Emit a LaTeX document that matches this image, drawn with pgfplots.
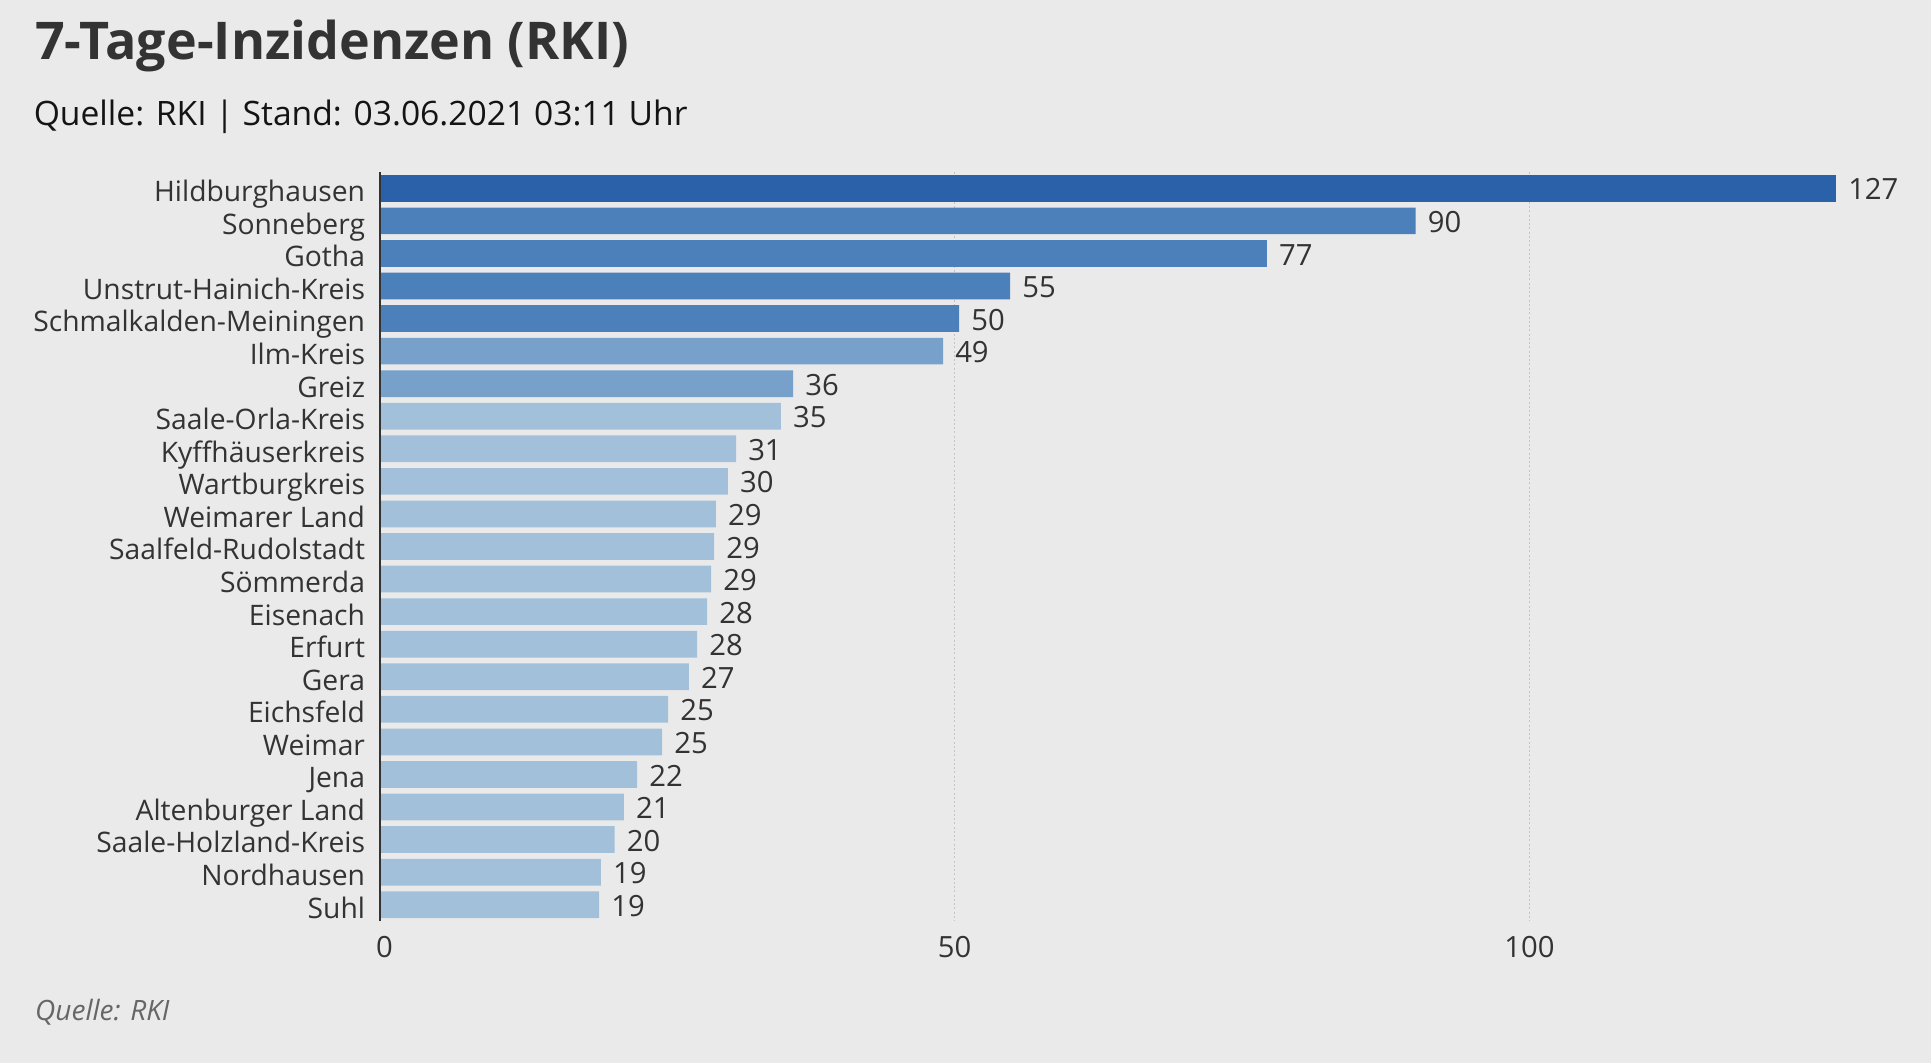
\documentclass[border=0pt]{standalone}
\usepackage{fontspec}
\setmainfont{Open Sans}
\usepackage{pgfplots}
\pgfplotsset{compat=1.18}
\definecolor{bg}{HTML}{EAEAEA}
\definecolor{txt}{HTML}{333333}
\definecolor{gridc}{HTML}{C4C4C4}
\definecolor{cA}{HTML}{2B61A8}
\definecolor{cB}{HTML}{4B80BB}
\definecolor{cC}{HTML}{77A1CB}
\definecolor{cD}{HTML}{A3C0DB}
\pgfplotsset{
  mybar/.style={xbar, bar width=10.68pt, bar shift=0pt, draw=none, fill=#1,
    point meta=explicit symbolic, nodes near coords,
    nodes near coords style={anchor=base west, inner sep=0pt, xshift=4.7pt, yshift=-4.64pt,
      font=\fontsize{11.7}{14}\selectfont, text=txt}}
}
\begin{document}
\begin{tikzpicture}
\useasboundingbox (0,0) rectangle (772.4pt,425.2pt);
\fill[bg] (0,0) rectangle (772.4pt,425.2pt);
\node[anchor=base west, inner sep=0pt, font=\fontsize{20.8}{24}\selectfont\bfseries, text=txt] at (13.9pt,401.2pt) {7-Tage-Inzidenzen (RKI)};
\node[anchor=base west, inner sep=0pt, font=\fontsize{13.45}{16}\selectfont, text=black!92] at (13.3pt,374.8pt) {Quelle: RKI | Stand: 03.06.2021 03:11 Uhr};
\node[anchor=base west, inner sep=0pt, font=\fontsize{11.2}{13}\selectfont\itshape, text=black!60] at (13.9pt,16.9pt) {Quelle: RKI};
\begin{axis}[
  at={(151.8pt,56.8pt)}, anchor=south west,
  scale only axis, width=598pt, height=299.6pt,
  xmin=0, xmax=130, ymin=-0.5, ymax=22.5, y dir=reverse,
  axis line style={draw=none}, tick style={draw=none},
  xtick={0,50,100}, xticklabels={\hspace*{4pt}0,50,100},
  ytick={0,1,...,22},
  yticklabels={Hildburghausen,Sonneberg,Gotha,Unstrut-Hainich-Kreis,Schmalkalden-Meiningen,Ilm-Kreis,Greiz,Saale-Orla-Kreis,Kyffhäuserkreis,Wartburgkreis,Weimarer Land,Saalfeld-Rudolstadt,Sömmerda,Eisenach,Erfurt,Gera,Eichsfeld,Weimar,Jena,Altenburger Land,Saale-Holzland-Kreis,Nordhausen,Suhl},
  xmajorgrids, major grid style={draw=gridc, line width=0.5pt, dash pattern=on 0.8pt off 0.9pt},
  xticklabel style={font=\fontsize{11.7}{14}\selectfont, text=txt, anchor=north, inner sep=0pt, yshift=-6pt},
  yticklabel style={font=\fontsize{11.3}{14}\selectfont, text=txt, anchor=base east, inner sep=0pt, xshift=-5.6pt, yshift=-5.36pt},
  /pgf/number format/assume math mode=true,
  clip=false,
]
\addplot[mybar=cA] coordinates {(126.65,0) [127]};
\addplot[mybar=cB] coordinates {(90.1,1) [90] (77.17,2) [77] (54.83,3) [55] (50.4,4) [50]};
\addplot[mybar=cC] coordinates {(49.0,5) [49] (35.96,6) [36]};
\addplot[mybar=cD] coordinates {(34.9,7) [35] (31.0,8) [31] (30.3,9) [30] (29.26,10) [29] (29.09,11) [29] (28.83,12) [29] (28.48,13) [28] (27.61,14) [28] (26.91,15) [27] (25.09,16) [25] (24.57,17) [25] (22.4,18) [22] (21.26,19) [21] (20.45,20) [20] (19.26,21) [19] (19.09,22) [19]};
\addplot[sharp plot, draw=txt, line width=0.8pt, no markers, forget plot] coordinates {(0,-0.5) (0,22.5)};
\end{axis}
\end{tikzpicture}
\end{document}
